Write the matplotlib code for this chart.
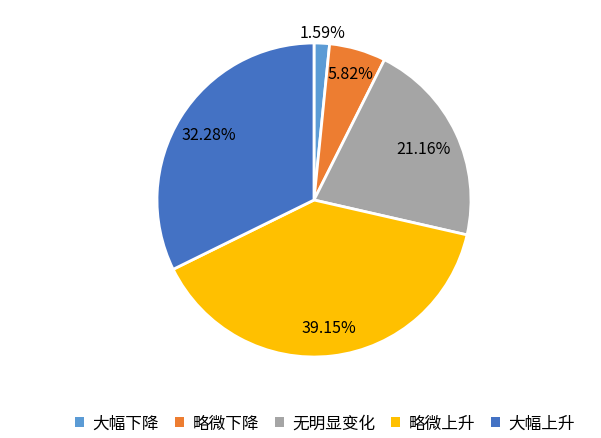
import numpy as np
import matplotlib.pyplot as plt
from matplotlib.patches import Patch

plt.rcParams['font.family'] = ['Noto Sans CJK SC', 'DejaVu Sans']

categories = ['大幅下降', '略微下降', '无明显变化', '略微上升', '大幅上升']
shares = [1.59, 5.82, 21.16, 39.15, 32.28]
colors = ['#5B9BD5', '#ED7D31', '#A5A5A5', '#FFC000', '#4472C4']

fig = plt.figure(figsize=(6.01, 4.39), dpi=100)
W, H = 601, 439
cx, cy, r = 314, 201, 157
ax = fig.add_axes([(cx - r) / W, (H - cy - r) / H, 2 * r / W, 2 * r / H])

wedges, _ = ax.pie(shares, colors=colors, startangle=90, counterclock=False,
                   radius=1.0, wedgeprops=dict(edgecolor='white', linewidth=2))
ax.set_xlim(-1, 1)
ax.set_ylim(-1, 1)
ax.set_aspect('equal')
ax.axis('off')

dists = [1.07, 0.84, 0.77, 0.82, 0.79]
for w, v, d in zip(wedges, shares, dists):
    ang = np.deg2rad((w.theta1 + w.theta2) / 2)
    ax.text(d * np.cos(ang), d * np.sin(ang), f'{v:.2f}%', ha='center', va='center',
            fontsize=11.5, color='#000000')

handles = [Patch(facecolor=c, edgecolor='none') for c in colors]
fig.legend(handles, categories, loc='center', bbox_to_anchor=(325 / W, 1 - 424 / H),
           ncol=5, frameon=False, fontsize=12, handlelength=0.55, handleheight=0.55,
           handletextpad=0.5, columnspacing=0.95)

fig.savefig('out.png', dpi=100)
